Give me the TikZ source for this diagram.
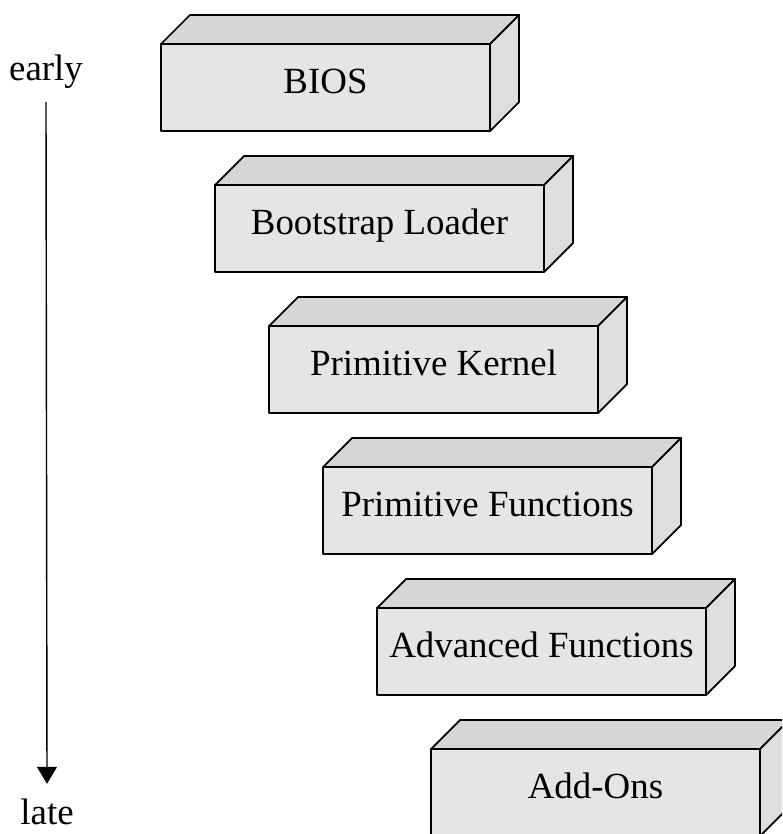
\documentclass[tikz,border=0pt]{standalone}
\usepackage{fontspec}
\setmainfont{Liberation Serif}
\usepackage{xcolor}
\usepackage{tikz}
\usetikzlibrary{arrows.meta,positioning,calc}

\definecolor{frontgray}{gray}{0.90}
\definecolor{topgray}{gray}{0.84}
\definecolor{sidegray}{gray}{0.87}

\begin{document}
\begin{tikzpicture}[
  >=Latex,
  font=\fontsize{21}{25}\selectfont,
  stage/.style={draw, fill=frontgray, line width=1pt, line join=round, inner sep=0pt, outer sep=0pt,
    minimum width=6.58cm, minimum height=1.74cm, text height=0.66em, text depth=0pt, anchor=north west},
  topface/.style={draw, fill=topgray, line width=1pt, line join=round},
  sideface/.style={draw, fill=sidegray, line width=1pt, line join=round},
  arr/.style={-{Triangle[width=0.4cm,length=0.34cm]}, line width=0.8pt},
]
\useasboundingbox (0,0) rectangle (15.64,-16.68);
\clip (0,0) rectangle (15.64,-16.68);

%------------------- Time axis -------------------
\node (early) at (0.92,-1.44) {early};
\node (late) at (0.94,-16.24) {late};
\draw[arr] ([yshift=-0.14cm]early.south) -- ([yshift=0.18cm]late.north); % early -> late

%------------------- Boot stages (front faces) -------------------
\node (bios) [stage] at (3.22,-0.88) {BIOS};
\node (loader) [stage] at ([xshift=1.08cm,yshift=-2.82cm]bios.north west) {Bootstrap Loader};
\node (kernel) [stage] at ([xshift=1.08cm,yshift=-2.82cm]loader.north west) {Primitive Kernel};
\node (primfun) [stage] at ([xshift=1.08cm,yshift=-2.82cm]kernel.north west) {Primitive Functions};
\node (advfun) [stage] at ([xshift=1.08cm,yshift=-2.82cm]primfun.north west) {Advanced Functions};
\node (addons) [stage] at ([xshift=1.08cm,yshift=-2.82cm]advfun.north west) {Add-Ons};

%------------------- Top and side faces -------------------
\foreach \b in {bios,loader,kernel,primfun,advfun,addons}{
  \draw[topface] (\b.north west) -- ++(0.58,0.58) -- ([shift={(0.58,0.58)}]\b.north east) -- (\b.north east) -- cycle;
  \draw[sideface] (\b.north east) -- ++(0.58,0.58) -- ([shift={(0.58,0.58)}]\b.south east) -- (\b.south east) -- cycle;
}

\end{tikzpicture}
\end{document}
